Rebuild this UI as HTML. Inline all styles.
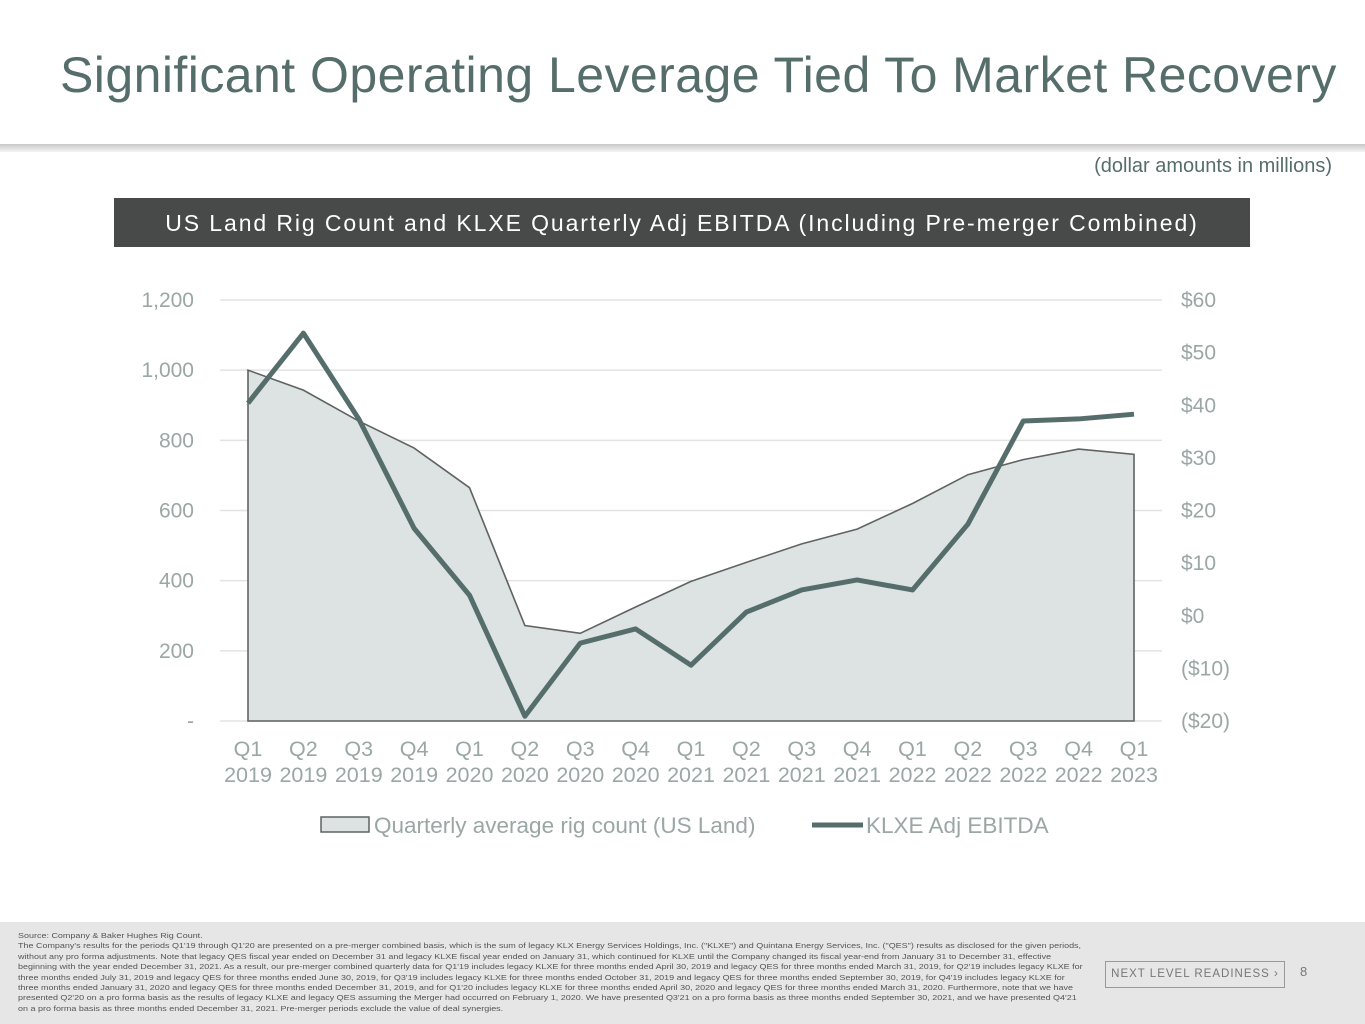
<!DOCTYPE html>
<html><head><meta charset="utf-8"><style>
body{margin:0;width:1365px;height:1024px;background:#fff;font-family:"Liberation Sans",sans-serif;position:relative;overflow:hidden}
.title{position:absolute;left:60px;top:46px;font-size:50px;letter-spacing:0.45px;color:#566e6b;white-space:nowrap}
.rule{position:absolute;left:0;top:144px;width:1365px;height:8px;background:linear-gradient(#c8c8c8,#f4f4f4)}
.note{position:absolute;right:33px;top:155px;font-size:20px;color:#566e6b}
.banner{position:absolute;left:114px;top:198px;width:1136px;height:49px;background:#474a49;color:#fff;font-size:23px;text-align:center;line-height:50px;letter-spacing:1.9px;white-space:nowrap}
.footer{position:absolute;left:0;top:922px;width:1365px;height:102px;background:#e6e6e6}
.fn{position:absolute;left:18px;top:9px;font-size:7.4px;line-height:10.4px;color:#555;transform:scaleX(1.215);transform-origin:0 0}
.fn div{white-space:nowrap}
.logo{position:absolute;left:1105px;top:39px;width:180px;height:27px;border:1.5px solid #999;color:#777;font-size:11.5px;letter-spacing:1px;line-height:25px;text-align:center;box-sizing:border-box;white-space:nowrap;overflow:hidden}
.pg{position:absolute;left:1300px;top:42px;font-size:13px;color:#777}
</style></head><body>
<div class="title">Significant Operating Leverage Tied To Market Recovery</div>
<div class="rule"></div>
<div class="note">(dollar amounts in millions)</div>
<div class="banner">US Land Rig Count and KLXE Quarterly Adj EBITDA (Including Pre-merger Combined)</div>
<svg id="chart" width="1365" height="1024" style="position:absolute;left:0;top:0"></svg>
<div class="footer">
<div class="fn">
<div>Source: Company &amp; Baker Hughes Rig Count.</div>
<div>The Company's results for the periods Q1'19 through Q1'20 are presented on a pre-merger combined basis, which is the sum of legacy KLX Energy Services Holdings, Inc. ("KLXE") and Quintana Energy Services, Inc. ("QES") results as disclosed for the given periods,</div>
<div>without any pro forma adjustments. Note that legacy QES fiscal year ended on December 31 and legacy KLXE fiscal year ended on January 31, which continued for KLXE until the Company changed its fiscal year-end from January 31 to December 31, effective</div>
<div>beginning with the year ended December 31, 2021. As a result, our pre-merger combined quarterly data for Q1'19 includes legacy KLXE for three months ended April 30, 2019 and legacy QES for three months ended March 31, 2019, for Q2'19 includes legacy KLXE for</div>
<div>three months ended July 31, 2019 and legacy QES for three months ended June 30, 2019, for Q3'19 includes legacy KLXE for three months ended October 31, 2019 and legacy QES for three months ended September 30, 2019, for Q4'19 includes legacy KLXE for</div>
<div>three months ended January 31, 2020 and legacy QES for three months ended December 31, 2019, and for Q1'20 includes legacy KLXE for three months ended April 30, 2020 and legacy QES for three months ended March 31, 2020. Furthermore, note that we have</div>
<div>presented Q2'20 on a pro forma basis as the results of legacy KLXE and legacy QES assuming the Merger had occurred on February 1, 2020. We have presented Q3'21 on a pro forma basis as three months ended September 30, 2021, and we have presented Q4'21</div>
<div>on a pro forma basis as three months ended December 31, 2021. Pre-merger periods exclude the value of deal synergies.</div>
</div>
<div class="logo">NEXT LEVEL READINESS ›</div>
<div class="pg">8</div>
</div>
<script>
const quarters=["Q1","Q2","Q3","Q4","Q1","Q2","Q3","Q4","Q1","Q2","Q3","Q4","Q1","Q2","Q3","Q4","Q1"];
const years=["2019","2019","2019","2019","2020","2020","2020","2020","2021","2021","2021","2021","2022","2022","2022","2022","2023"];
const rigCount=[1000,943,855,778,665,272,250,325,398,452,505,547,620,702,745,775,760];
const ebitda=[40.4,53.7,37.4,16.6,3.9,-19.1,-5.2,-2.5,-9.4,0.7,4.9,6.8,4.9,17.4,37.0,37.4,38.3];
const leftTicks=[0,200,400,600,800,1000,1200];
const leftLabels=["-","200","400","600","800","1,000","1,200"];
const rightTicks=[-20,-10,0,10,20,30,40,50,60];
const rightLabels=["($20)","($10)","$0","$10","$20","$30","$40","$50","$60"];
const svg=document.getElementById('chart');const NS='http://www.w3.org/2000/svg';
const X0=248,X1=1134,Y0=721,Y1=300;
const x=i=>X0+(X1-X0)*i/(quarters.length-1);
const yL=v=>Y0-(Y0-Y1)*v/1200;
const yR=v=>Y0-(Y0-Y1)*(v+20)/80;
function mk(t,a,txt){const e=document.createElementNS(NS,t);for(const k in a)e.setAttribute(k,a[k]);if(txt!==undefined)e.textContent=txt;svg.appendChild(e);return e;}
leftTicks.forEach((v,i)=>{
 const g=mk('line',{x1:220,x2:1162,y1:yL(v),y2:yL(v),stroke:'#e3e3e3','stroke-width':1.5});
 
 
 const t=mk('text',{x:194,y:yL(v)+7,'text-anchor':'end','font-size':21,fill:'#9aa7a5'},leftLabels[i]);
 
 
});
rightTicks.forEach((v,i)=>{
 const t=mk('text',{x:1181,y:yR(v)+7,'font-size':21,fill:'#9aa7a5'},rightLabels[i]);
 
 
});
let d=`M${x(0)},${Y0}`;rigCount.forEach((v,i)=>d+=` L${x(i)},${yL(v)}`);d+=` L${x(rigCount.length-1)},${Y0} Z`;
const area=mk('path',{d:d,fill:'#dce3e2',stroke:'#5f6362','stroke-width':1.6});


const ln=mk('polyline',{points:ebitda.map((v,i)=>x(i)+','+yR(v)).join(' '),fill:'none',stroke:'#566e6b','stroke-width':5,'stroke-linejoin':'round'});


quarters.forEach((q,i)=>{
 const t=mk('text',{x:x(i),y:756,'text-anchor':'middle','font-size':21.5,fill:'#9aa7a5'},q);
 
 
 const t2=mk('text',{x:x(i),y:782,'text-anchor':'middle','font-size':21.5,fill:'#9aa7a5'},years[i]);
 
 
});
const lg1=mk('rect',{x:321,y:817,width:48,height:15,fill:'#dce3e2',stroke:'#5f6362','stroke-width':1.5});


const lt1=mk('text',{x:374,y:833,'font-size':22.5,fill:'#9aa7a5'},'Quarterly average rig count (US Land)');


const lg2=mk('line',{x1:812,x2:863,y1:825,y2:825,stroke:'#566e6b','stroke-width':5});


const lt2=mk('text',{x:866,y:833,'font-size':22.5,fill:'#9aa7a5'},'KLXE Adj EBITDA');


</script>
</body></html>
